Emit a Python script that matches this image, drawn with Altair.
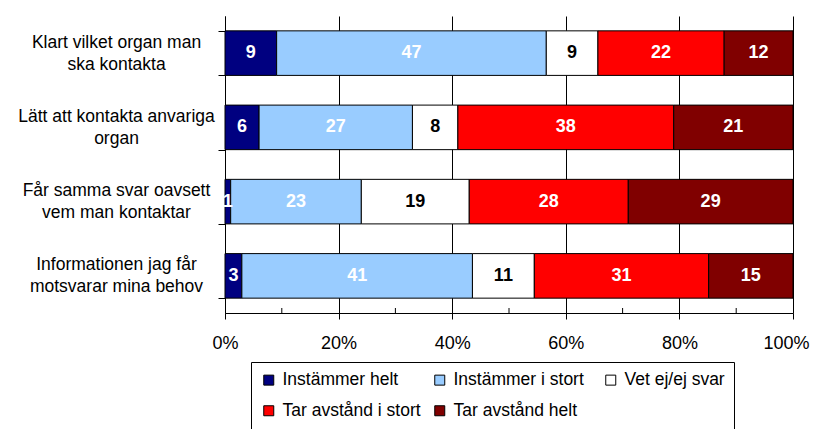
import altair as alt
import pandas as pd

categories = [
    "Klart vilket organ man|ska kontakta",
    "Lätt att kontakta anvariga|organ",
    "Får samma svar oavsett|vem man kontaktar",
    "Informationen jag får|motsvarar mina behov",
]
series = ["Instämmer helt", "Instämmer i stort", "Vet ej/ej svar",
          "Tar avstånd i stort", "Tar avstånd helt"]
colors = ["#000080", "#99CCFF", "#FFFFFF", "#FF0000", "#800000"]

instammer_helt = [9, 6, 1, 3]
instammer_i_stort = [47, 27, 23, 41]
vet_ej = [9, 8, 19, 11]
tar_avstand_i_stort = [22, 38, 28, 31]
tar_avstand_helt = [12, 21, 29, 15]

x_ticks = [0, 0.2, 0.4, 0.6, 0.8, 1.0]
minor_ticks = [0.1, 0.3, 0.5, 0.7, 0.9]

all_values = [instammer_helt, instammer_i_stort, vet_ej,
              tar_avstand_i_stort, tar_avstand_helt]
rows = []
for si, (s, vals) in enumerate(zip(series, all_values)):
    for ci, c in enumerate(categories):
        rows.append({"cat": c, "series": s, "order": si, "value": vals[ci]})
df = pd.DataFrame(rows)

W, H = 568, 297
FONT = "Liberation Sans"

base = alt.Chart(df).transform_stack(
    stack="value", groupby=["cat"], as_=["v0", "v1"], offset="normalize",
    sort=[alt.SortField("order", order="ascending")]
).transform_calculate(mid="(datum.v0 + datum.v1) / 2")

x_scale = alt.Scale(domain=[0, 1], nice=False, zero=True)
y_enc = alt.Y(
    "cat:N", sort=categories,
    scale=alt.Scale(paddingInner=0.4, paddingOuter=0.2),
    axis=alt.Axis(
        title=None, tickBand="extent", labelExpr="split(datum.label, '|')",
        labelAlign="center", labelBaseline="middle", labelPadding=102,
        labelOffset=-11,
        tickSize=7, labelFontSize=17.5, labelLineHeight=22, labelFont=FONT,
        domainColor="black", tickColor="black", labelColor="black", grid=False,
        labelLimit=300,
    ),
)

bars = base.mark_bar(stroke="black", strokeWidth=1).encode(
    x=alt.X("v0:Q", scale=x_scale, axis=alt.Axis(
        values=x_ticks, format=".0%", grid=True, gridColor="black", gridWidth=1,
        gridOpacity=1, title=None, tickSize=6, labelFlush=False, labelPadding=15,
        labelOffset={"condition": {"test": "datum.value == 1", "value": -7},
                     "value": 0},
        labelFontSize=18, labelFont=FONT, labelColor="black",
        domainColor="black", tickColor="black")),
    x2="v1:Q",
    y=y_enc,
    color=alt.Color("series:N", scale=alt.Scale(domain=series, range=colors),
                    legend=alt.Legend(
                        title=None, orient="none", legendX=26, legendY=346,
                        direction="horizontal",
                        columns=3, symbolType="square", symbolSize=100,
                        symbolStrokeColor="black", symbolStrokeWidth=1,
                        labelFontSize=17.5, labelFont=FONT, labelColor="black",
                        strokeColor="black", fillColor="white", padding=9,
                        rowPadding=12, columnPadding=10, labelOffset=5,
                        gridAlign="all", labelLimit=300)),
)

text = base.mark_text(font=FONT, fontWeight="bold", fontSize=18,
                      baseline="middle", align="center").encode(
    x=alt.X("mid:Q", scale=x_scale),
    y=alt.Y("cat:N", sort=categories),
    text="value:Q",
    color=alt.condition(alt.datum.series == "Vet ej/ej svar",
                        alt.value("black"), alt.value("white")),
)

minor = alt.Chart(pd.DataFrame({"t": minor_ticks})).mark_rule(
    color="black", strokeWidth=1).encode(
    x=alt.X("t:Q", scale=x_scale),
    y=alt.value(H - 5), y2=alt.value(H),
)

chart = alt.layer(bars, text, minor).properties(
    width=W, height=H,
    autosize=alt.AutoSizeParams(type="none"),
    padding={"left": 217, "top": 8, "right": 17, "bottom": 116},
).configure(font=FONT).configure_view(stroke="transparent")

chart.save("out.html", embed_options={"renderer": "svg", "actions": False})
